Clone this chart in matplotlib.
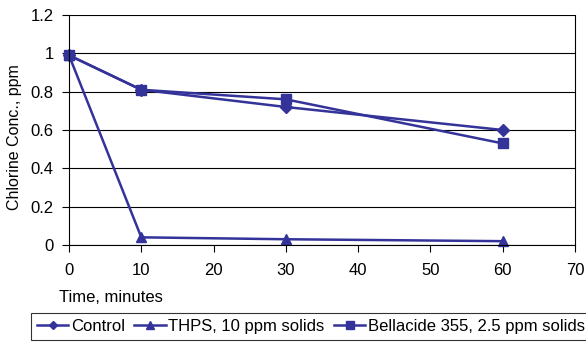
import matplotlib
matplotlib.use("Agg")
import matplotlib.pyplot as plt

time = [0, 10, 30, 60]
control = [0.99, 0.81, 0.72, 0.60]
thps = [0.99, 0.04, 0.03, 0.02]
bellacide = [0.99, 0.81, 0.76, 0.53]
labels = ["Control", "THPS, 10 ppm solids", "Bellacide 355, 2.5 ppm solids"]

plt.rcParams['font.family'] = ['Liberation Sans', 'DejaVu Sans']
color = "#333399"
fs = 12

fig = plt.figure(figsize=(5.86, 3.42), dpi=100)
ax = fig.add_axes([69/586, 1 - 245/342, (575-69)/586, (245-15)/342])

l1, = ax.plot(time, control, color=color, lw=1.8, marker="D", ms=6, label=labels[0], clip_on=False)
l2, = ax.plot(time, thps, color=color, lw=1.8, marker="^", ms=7.5, label=labels[1], clip_on=False)
l3, = ax.plot(time, bellacide, color=color, lw=1.8, marker="s", ms=7, label=labels[2], clip_on=False)

ax.set_xlim(0, 70)
ax.set_ylim(0, 1.2)
ax.set_xticks(range(0, 71, 10))
ax.set_yticks([0, 0.2, 0.4, 0.6, 0.8, 1.0, 1.2])
ax.set_yticklabels(["0", "0.2", "0.4", "0.6", "0.8", "1", "1.2"])
ax.tick_params(axis='both', labelsize=fs, colors='black', width=0.8)
ax.tick_params(axis='x', direction='out', length=5, pad=8)
ax.tick_params(axis='y', direction='out', length=5, pad=6)
ax.yaxis.grid(True, color='black', lw=0.8)
ax.set_axisbelow(True)
for s in ax.spines.values():
    s.set_color('black')
    s.set_linewidth(0.8)
ax.spines['top'].set_visible(False)

fig.text(15/586, 1 - 137/342, "Chlorine Conc., ppm", fontsize=11.5, rotation=90,
         va='center', ha='center')
fig.text(59/586, 1 - 298/342, "Time, minutes", fontsize=fs, va='center', ha='left')

leg = fig.legend(handles=[l1, l2, l3], loc='upper left', bbox_to_anchor=(31/586, 1 - 313/342),
                 ncol=3, fontsize=fs, frameon=True, fancybox=False,
                 edgecolor='black', handlelength=1.9, handletextpad=0.15, columnspacing=0.55,
                 borderpad=0.35, borderaxespad=0, markerscale=0.75)
leg.get_frame().set_linewidth(0.8)

fig.savefig("out.png", dpi=100)
